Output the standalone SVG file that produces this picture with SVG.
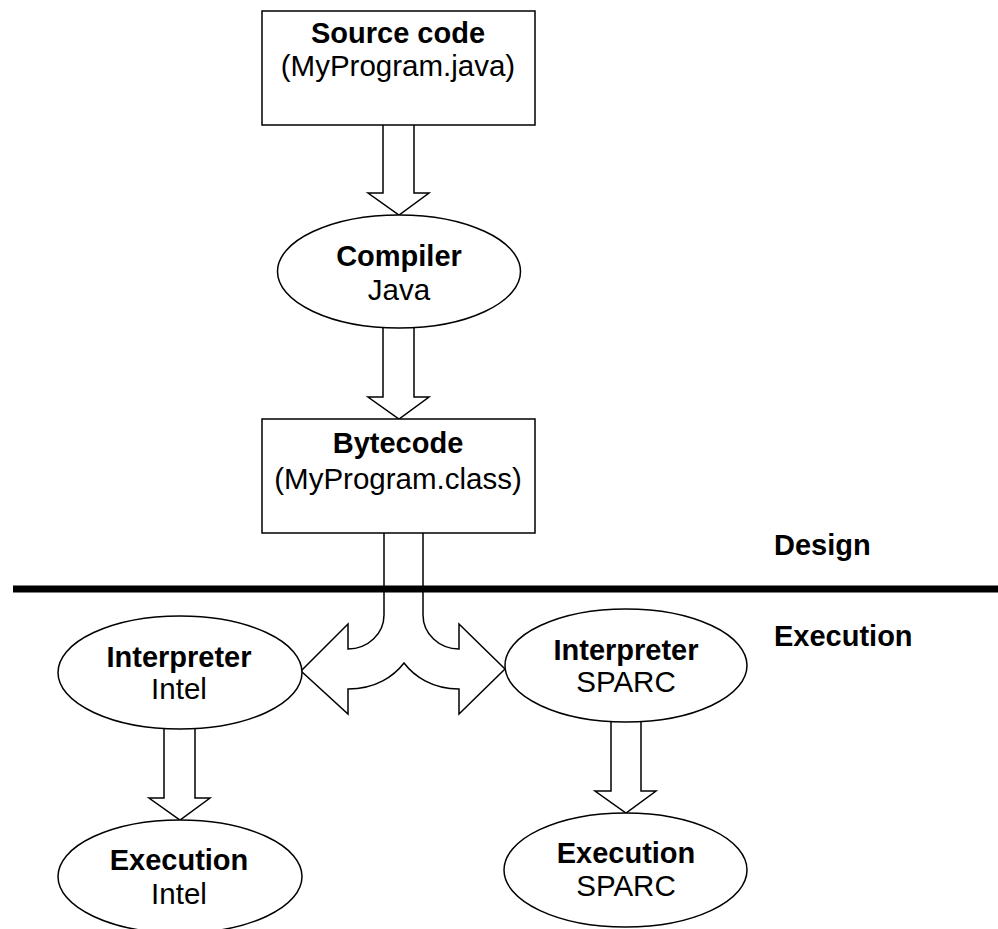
<svg xmlns="http://www.w3.org/2000/svg" width="998" height="929" viewBox="0 0 998 929">
<style>
.shape{fill:#fff;stroke:#000;stroke-width:1.5}
.b{font-family:"Liberation Sans",Arial,sans-serif;font-size:29px;font-weight:bold;text-anchor:middle;fill:#000}
.n{font-family:"Liberation Sans",Arial,sans-serif;font-size:29.5px;text-anchor:middle;fill:#000}
.lbl{font-family:"Liberation Sans",Arial,sans-serif;font-size:29px;font-weight:bold;fill:#000}
</style>
<rect width="998" height="929" fill="#fff"/>
<g id="connectors">
<path class="shape" d="M383,125 V193 H368 L399,215 L429,193 H414 V125"/>
<path class="shape" d="M383,328 V397 H368 L399,419 L429,397 H414 V328"/>
<path class="shape" d="M164,729 V798 H149 L180,820 L210,798 H195 V729"/>
<path class="shape" d="M611,722 V791 H595 L626,813 L656,791 H641 V722"/>
<path class="shape" d="M384,533 V615 A36 34 0 0 1 348,649 V624 L301,671 L348,714 V689 C376,689 394,676 404,663 C414,676 432,689 459,689 V714 L505,669 L459,624 V649 A36 34 0 0 1 423,615 V533"/>
</g>
<line x1="13" y1="589" x2="998" y2="589" stroke="#000" stroke-width="7"/>
<g id="source">
<rect class="shape" x="262" y="11" width="273" height="114"/>
<text class="b" x="398" y="43">Source code</text>
<text class="n" x="398" y="76">(MyProgram.java)</text>
</g>
<g id="compiler">
<ellipse class="shape" cx="399" cy="271.5" rx="121.5" ry="56.5"/>
<text class="b" x="399" y="266">Compiler</text>
<text class="n" x="399" y="300">Java</text>
</g>
<g id="bytecode">
<rect class="shape" x="262" y="419" width="273" height="114"/>
<text class="b" x="398" y="453">Bytecode</text>
<text class="n" x="398" y="489">(MyProgram.class)</text>
</g>
<g id="interp-intel">
<ellipse class="shape" cx="180" cy="672.5" rx="122" ry="56.5"/>
<text class="b" x="179" y="667">Interpreter</text>
<text class="n" x="179" y="699">Intel</text>
</g>
<g id="exec-intel">
<ellipse class="shape" cx="180" cy="876.5" rx="122" ry="56.5"/>
<text class="b" x="179" y="870">Execution</text>
<text class="n" x="179" y="904">Intel</text>
</g>
<g id="interp-sparc">
<ellipse class="shape" cx="626" cy="665.5" rx="121" ry="56.5"/>
<text class="b" x="626" y="660">Interpreter</text>
<text class="n" x="626" y="692">SPARC</text>
</g>
<g id="exec-sparc">
<ellipse class="shape" cx="625.5" cy="870" rx="121.5" ry="57"/>
<text class="b" x="626" y="863">Execution</text>
<text class="n" x="626" y="896">SPARC</text>
</g>
<g id="labels">
<text class="lbl" x="774" y="555">Design</text>
<text class="lbl" x="774" y="646">Execution</text>
</g>
</svg>
